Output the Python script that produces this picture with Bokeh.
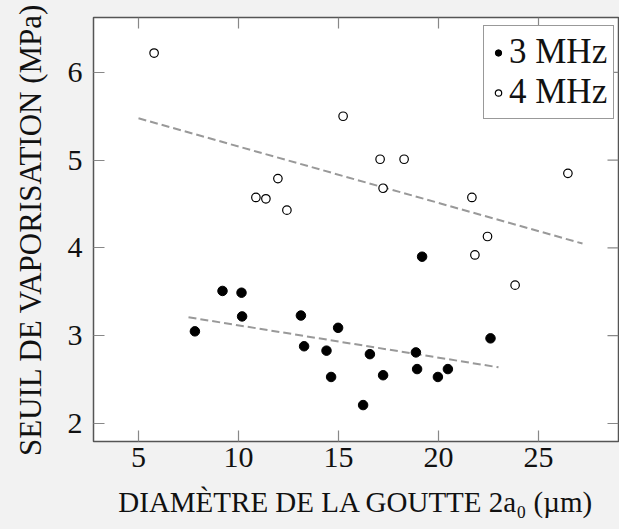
from bokeh.plotting import figure
from bokeh.models import FixedTicker, Range1d, Legend, LegendItem
from bokeh.embed import file_html
from bokeh.resources import INLINE

# 3 MHz measurements (filled)
x_3mhz = [7.82, 9.2, 10.15, 10.18, 13.12, 13.28, 14.4, 14.63, 14.98, 16.23, 16.57,
          17.23, 18.87, 18.93, 19.18, 19.97, 20.47, 22.6]
y_3mhz = [3.05, 3.51, 3.49, 3.22, 3.23, 2.88, 2.83, 2.53, 3.09, 2.21, 2.79,
          2.55, 2.81, 2.62, 3.90, 2.53, 2.62, 2.97]

# 4 MHz measurements (open)
x_4mhz = [5.78, 10.87, 11.37, 11.97, 12.42, 15.23, 17.08, 17.23, 18.28, 21.67,
          21.82, 22.45, 23.83, 26.47]
y_4mhz = [6.22, 4.575, 4.56, 4.79, 4.43, 5.50, 5.01, 4.68, 5.01, 4.575,
          3.92, 4.13, 3.576, 4.85]

# linear trend lines (end points)
fit_3mhz_x = [7.5, 23.0]
fit_3mhz_y = [3.21, 2.64]
fit_4mhz_x = [5.0, 27.2]
fit_4mhz_y = [5.477, 4.05]

x_ticks = [5, 10, 15, 20, 25]
y_ticks = [2, 3, 4, 5, 6]
x_lim = (2.75, 29.0)
y_lim = (1.795, 6.625)

FONT = "Liberation Serif"
BG = "#f2f2f2"
TICK_COLOR = "#888888"
TICK_PX = 11

W, H = 619, 529
BL, BT, BR, BB = 93, 17, 1, 88

p = figure(width=W, height=H, output_backend="svg", toolbar_location=None,
           x_range=Range1d(*x_lim), y_range=Range1d(*y_lim),
           min_border_left=BL, min_border_top=BT, min_border_right=BR, min_border_bottom=BB,
           border_fill_color=BG, background_fill_color="white",
           outline_line_color="#555555", outline_line_width=1.5)
p.grid.visible = False

for ax in [p.xaxis[0], p.yaxis[0]]:
    ax.axis_line_color = None
    ax.major_tick_in = TICK_PX
    ax.major_tick_out = 0
    ax.minor_tick_line_color = None
    ax.major_tick_line_color = TICK_COLOR
    ax.major_tick_line_width = 1.2
    ax.major_label_text_font = FONT
    ax.major_label_text_font_size = "30px"
    ax.major_label_text_color = "#111111"
    ax.axis_label_text_font = FONT
    ax.axis_label_text_font_style = "normal"
    ax.axis_label_text_color = "#111111"

p.xaxis[0].ticker = FixedTicker(ticks=x_ticks)
p.yaxis[0].ticker = FixedTicker(ticks=y_ticks)
p.xaxis[0].axis_label = "DIAMÈTRE DE LA GOUTTE 2a₀ (µm)"
p.yaxis[0].axis_label = "SEUIL DE VAPORISATION (MPa)"
p.xaxis[0].axis_label_text_font_size = "29px"
p.yaxis[0].axis_label_text_font_size = "31px"
p.xaxis[0].major_label_standoff = 6
p.yaxis[0].major_label_standoff = 11
p.xaxis[0].axis_label_standoff = 16
p.yaxis[0].axis_label_standoff = 17

# mirrored ticks on the top and right edges of the frame (tick length in data units)
frame_w = W - BL - BR
frame_h = H - BT - BB
dx_tick = TICK_PX * (x_lim[1] - x_lim[0]) / frame_w
dy_tick = TICK_PX * (y_lim[1] - y_lim[0]) / frame_h
p.segment(x0=x_ticks, y0=[y_lim[1]] * len(x_ticks),
          x1=x_ticks, y1=[y_lim[1] - dy_tick] * len(x_ticks),
          line_color=TICK_COLOR, line_width=1.2)
p.segment(x0=[x_lim[1]] * len(y_ticks), y0=y_ticks,
          x1=[x_lim[1] - dx_tick] * len(y_ticks), y1=y_ticks,
          line_color=TICK_COLOR, line_width=1.2)

# trend lines
p.line(fit_4mhz_x, fit_4mhz_y, line_color="#999999", line_width=2, line_dash="8 4")
p.line(fit_3mhz_x, fit_3mhz_y, line_color="#999999", line_width=2, line_dash="8 4")

r3 = p.scatter(x_3mhz, y_3mhz, size=9.5, marker="circle", fill_color="black", line_color="black")
r4 = p.scatter(x_4mhz, y_4mhz, size=8.5, marker="circle", fill_color="white",
               line_color="black", line_width=1.2)

legend = Legend(items=[LegendItem(label="3 MHz", renderers=[r3]),
                       LegendItem(label="4 MHz", renderers=[r4])],
                location=(390, 322))
legend.label_text_font = FONT
legend.label_text_font_size = "35px"
legend.label_text_color = "#111111"
legend.label_height = 36
legend.glyph_width = 16
legend.glyph_height = 17
legend.label_standoff = 3
legend.padding = 6
legend.spacing = 0
legend.margin = 0
legend.border_line_color = "#333333"
legend.border_line_width = 1
legend.background_fill_color = "white"
legend.background_fill_alpha = 1
p.add_layout(legend, "center")

html = file_html(p, INLINE)
html = html.replace("<head>", "<head><style>body{background:#f2f2f2;}</style>", 1)
open("out.html", "w").write(html)
